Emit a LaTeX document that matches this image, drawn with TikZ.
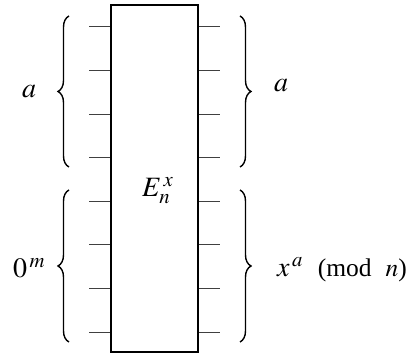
\documentclass[tikz,border=0pt]{standalone}
\usepackage{mathptmx}
\usepackage{fontspec}
\setmainfont{Liberation Serif}
\usetikzlibrary{decorations.pathreplacing,positioning}
\tikzset{
  gatebox/.style={rectangle,draw=black,line width=1.6pt,fill=white,
                  minimum width=87pt,minimum height=347pt,inner sep=0pt},
  wire/.style={line width=1pt,color=black!75},
  brc/.style={decorate,decoration={brace,amplitude=11pt},line width=1.4pt},
  lbl/.style={font=\fontsize{28}{32}\selectfont,inner sep=0pt,anchor=base west},
}

\begin{document}
\begin{tikzpicture}[x=1pt,y=1pt]
  \useasboundingbox (0,0) rectangle (407,353);

  \node[gatebox] (gate) at (154.5,174.5) {};
  \node[lbl] (gname) at (142,156) {$E_n^{\,x}$};

  % input and output wires
  \foreach \i in {0,...,7}{
    \coordinate (in\i)  at (89,{326-43.6*\i});
    \coordinate (out\i) at (220,{326-43.6*\i});
    \draw[wire] (in\i) -- (in\i -| gate.west);
    \draw[wire] (gate.east |- out\i) -- (out\i);
  }

  % braces
  \draw[brc] (69,186) -- (69,337);
  \draw[brc] (69,11) -- (69,163);
  \draw[brc] (240,337) -- (240,186);
  \draw[brc] (240,163) -- (240,11);

  \node[lbl] (ain)  at (22,255) {$a$};
  \node[lbl] (zin)  at (13,75)  {$0^{\,m}$};
  \node[lbl] (aout) at (274,261) {$a$};
  \node[lbl] (xout) at (277,76)
    {$x^{\,a}$\hspace{15pt}{\fontsize{25.5}{29}\selectfont(mod\hspace{14pt}$n$)}};
\end{tikzpicture}
\end{document}
